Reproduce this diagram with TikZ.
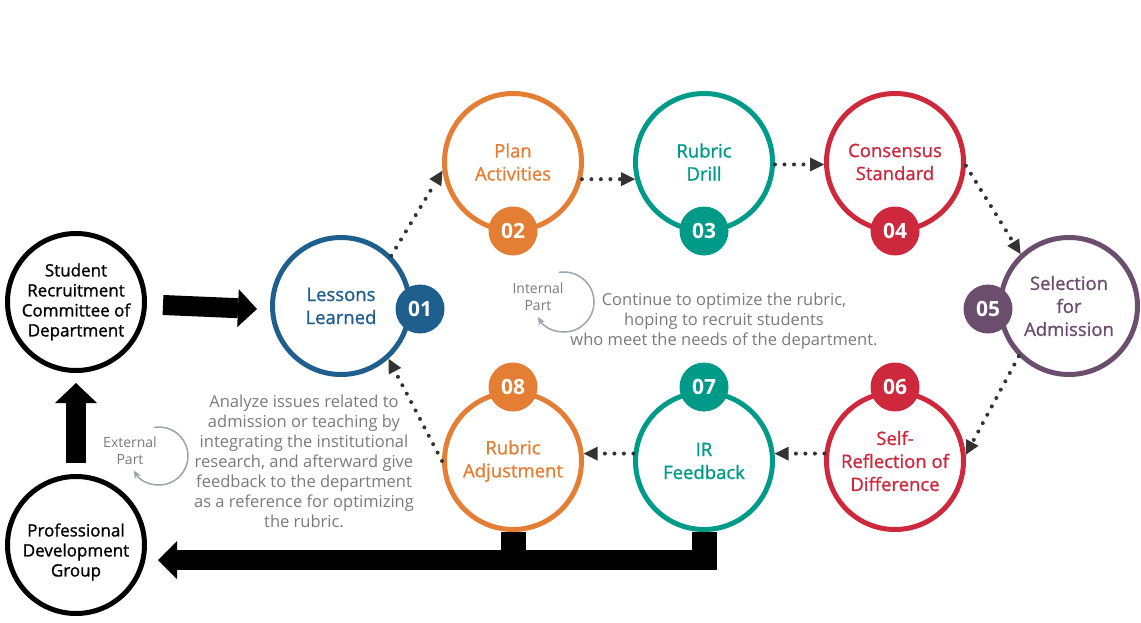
\documentclass[tikz,border=0pt]{standalone}
\usepackage{fontspec}
\setmainfont{Open Sans}
\newfontfamily\labfont[FakeBold=1.1]{Open Sans}
\usetikzlibrary{arrows.meta}
\definecolor{cblue}{HTML}{1F5F8E}
\definecolor{corange}{HTML}{E37E34}
\definecolor{cteal}{HTML}{009A89}
\definecolor{cred}{HTML}{CE283D}
\definecolor{cpurple}{HTML}{6B4D6E}
\definecolor{cdots}{HTML}{333333}
\definecolor{cgray}{HTML}{7A7A7A}
\definecolor{cloop}{HTML}{98A4AE}
\begin{document}
\begin{tikzpicture}[x=1pt,y=-1pt,
    stage/.style={circle,draw=#1,text=#1,line width=5pt,minimum size=137pt,inner sep=0pt,
        align=center,font=\labfont\fontsize{18.5}{23}\selectfont},
    unit/.style={circle,draw=black,line width=5pt,minimum size=137pt,inner sep=0pt},
    unittext/.style={align=center,font=\labfont\fontsize{17}{20}\selectfont},
    badge/.style={circle,fill=#1,text=white,minimum size=49pt,inner sep=0pt,
        font=\bfseries\fontsize{21}{21}\selectfont},
    flow/.style={cdots,line width=4pt,line cap=round,dash pattern=on 0pt off 9.5pt,
        -{Triangle[length=14pt,width=14pt,line width=0pt]}},
    block/.style={line width=20pt,-{Triangle[length=19pt,width=38pt,line width=0pt]}},
    note/.style={text=cgray,align=center,font=\fontsize{16.5}{20}\selectfont},
    loopnote/.style={text=cgray,align=center,font=\fontsize{14}{17}\selectfont},
    loopline/.style={cloop,line width=1.5pt,-{Stealth[length=8pt,width=7pt]}}]
    \useasboundingbox (0,0) rectangle (1141,623);
    \node[unit] (src) at (76,302) {};
    \node[unittext] (srct) at (76,302) {Student\\Recruitment\\Committee of\\Department};
    \node[unit] (pdg) at (76,545) {};
    \node[unittext] (pdgt) at (76,552) {Professional\\Development\\Group};
    \node[stage=cblue] (s1) at (341,306) {Lessons\\Learned};
    \node[stage=corange] (s2) at (513,162) {Plan\\Activities};
    \node[stage=cteal] (s3) at (704,162) {Rubric\\Drill};
    \node[stage=cred] (s4) at (895,162) {Consensus\\Standard};
    \node[stage=cpurple] (s5) at (1069,306) {Selection\\for\\Admission};
    \node[stage=cred] (s6) at (895,461) {Self-\\Reflection of\\Difference};
    \node[stage=cteal] (s7) at (704,461) {IR\\Feedback};
    \node[stage=corange] (s8) at (513,461) {Rubric\\Adjustment};
    \foreach \n/\c/\x/\y in {01/cblue/420/309,02/corange/513/231,03/cteal/704/231,
            04/cred/895/231,05/cpurple/988/309,06/cred/895/387,07/cteal/704/387,08/corange/513/387}
        \node[badge=\c] (b\n) at (\x,\y) {\n};
    \draw[flow] (s1.45) -- (s2.187);
    \draw[flow] (s2.-14) -- (s3.194);
    \draw[flow] (s3.-2) -- (s4.182);
    \draw[flow] (s4.-3) -- (s5.133);
    \draw[flow] (s5.225) -- (s6.5);
    \draw[flow] (s6.174) -- (s7.6);
    \draw[flow] (s7.174) -- (s8.6);
    \draw[flow] (s8.180) -- (s1.-48);
    \draw[block] ([shift={(16pt,-3pt)}]src.east) -- ([shift={(-13pt,-3pt)}]s1.west);
    \draw[block,-{Triangle[length=20pt,width=42pt,line width=0pt]}] ([yshift=11pt]pdg.north) -- ([yshift=-10pt]src.south);
    \coordinate (fb) at (717,560);
    \draw[line width=25pt] (s8.south) -- (s8.south |- fb);
    \draw[line width=25pt] (s7.south) -- (s7.south |- fb);
    \draw[block] (fb) -- ([shift={(11pt,-15pt)}]pdg.east);
    \node[loopnote] (inl) at (538,297) {Internal\\Part};
    \draw[loopline] (564,302) ++(-100:30) arc[start angle=-100,end angle=150,radius=30];
    \node[loopnote] (exl) at (130,451) {External\\Part};
    \draw[loopline] (159,456) ++(-100:29) arc[start angle=-100,end angle=150,radius=29];
    \node[note] (inn) at (724,321) {Continue to optimize the rubric,\\hoping to recruit students\\who meet the needs of the department.};
    \node[note] (exn) at (304,461) {Analyze issues related to\\admission or teaching by\\integrating the institutional\\research, and afterward give\\feedback to the department\\as a reference for optimizing\\the rubric.};
\end{tikzpicture}
\end{document}
